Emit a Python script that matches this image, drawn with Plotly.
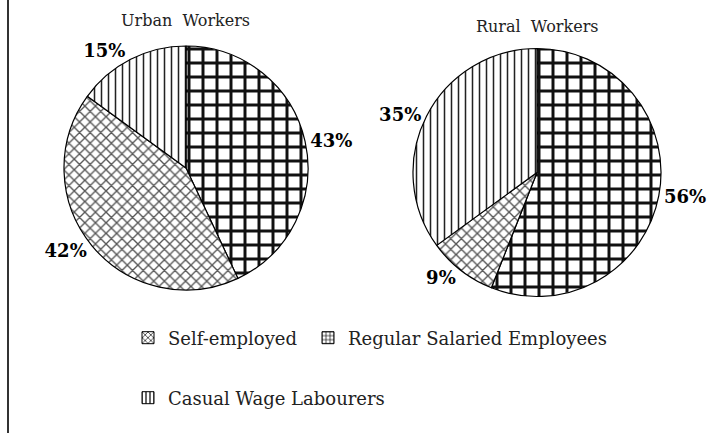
import plotly.graph_objects as go

# ---- data ----
categories = ["Self-employed", "Regular Salaried Employees", "Casual Wage Labourers"]
urban_values = [42, 43, 15]
rural_values = [9, 56, 35]
pie_titles = ["Urban  Workers", "Rural  Workers"]

# ---- styles ----
pattern_shapes = {"Self-employed": "x", "Regular Salaried Employees": "+", "Casual Wage Labourers": "|"}
pattern_sizes = {"Self-employed": 7.5, "Regular Salaried Employees": 14, "Casual Wage Labourers": 7}
pattern_solid = {"Self-employed": 0.33, "Regular Salaried Employees": 0.38, "Casual Wage Labourers": 0.22}
pattern_fg = {"Self-employed": "#555", "Regular Salaried Employees": "#111", "Casual Wage Labourers": "#222"}
SERIF = "DejaVu Serif"
W, H = 728, 433

# pie order clockwise from 12 o'clock: Regular, Self, Casual
order = [1, 0, 2]

def pie(values, domain_x, domain_y):
    labs = [categories[i] for i in order]
    vals = [values[i] for i in order]
    return go.Pie(
        labels=labs, values=vals, sort=False, direction="clockwise", rotation=0,
        domain=dict(x=domain_x, y=domain_y),
        texttemplate="<b>%{value}%</b>", textposition="outside",
        outsidetextfont=dict(family=SERIF, size=18, color="black"),
        marker=dict(
            colors=["white"] * 3,
            line=dict(color="black", width=1.2),
            pattern=dict(
                shape=[pattern_shapes[l] for l in labs],
                size=[pattern_sizes[l] for l in labs],
                solidity=[pattern_solid[l] for l in labs],
                fgcolor=[pattern_fg[l] for l in labs], fgopacity=1,
                bgcolor="white", fillmode="overlay",
            ),
        ),
        showlegend=False, hoverinfo="label+value",
    )

fig = go.Figure()
fig.add_trace(pie(urban_values, [64 / W, 308 / W], [1 - 290 / H, 1 - 46 / H]))
fig.add_trace(pie(rural_values, [413 / W, 661 / W], [1 - 297 / H, 1 - 48 / H]))

# legend entries (legend-only bars, no data drawn)
for i, cat in enumerate(categories):
    fig.add_trace(go.Bar(
        x=[None], y=[None], name=cat,
        marker=dict(color="white", line=dict(color="black", width=1),
                    pattern=dict(shape=pattern_shapes[cat], size=5,
                                 solidity=0.3, fgcolor="black", fgopacity=1,
                                 bgcolor="white", fillmode="overlay")),
        legend="legend" if i < 2 else "legend2", showlegend=True,
        legendwidth=135 if i == 0 else None,
    ))

fig.add_annotation(text=pie_titles[0], x=185 / W, y=1 - 20 / H, xref="paper", yref="paper",
                   xanchor="center", yanchor="middle",
                   showarrow=False, font=dict(family=SERIF, size=16, color="#222"))
fig.add_annotation(text=pie_titles[1], x=537 / W, y=1 - 26 / H, xref="paper", yref="paper",
                   xanchor="center", yanchor="middle",
                   showarrow=False, font=dict(family=SERIF, size=16, color="#222"))

fig.add_shape(type="line", xref="paper", yref="paper", x0=8 / W, x1=8 / W, y0=0, y1=1,
              line=dict(color="#333", width=2))

leg_common = dict(orientation="h", xanchor="left", yanchor="middle",
                  font=dict(family=SERIF, size=18, color="#222"),
                  bgcolor="rgba(0,0,0,0)", itemwidth=30)
fig.update_layout(
    width=W, height=H, margin=dict(l=0, r=0, t=0, b=0),
    paper_bgcolor="white", plot_bgcolor="white",
    xaxis=dict(visible=False), yaxis=dict(visible=False),
    legend=dict(x=128 / W, y=1 - 338 / H, **leg_common),
    legend2=dict(x=128 / W, y=1 - 398 / H, **leg_common),
)

fig.write_html("out.html", config={"displayModeBar": False},
               post_script="document.body.style.margin='0px';")
